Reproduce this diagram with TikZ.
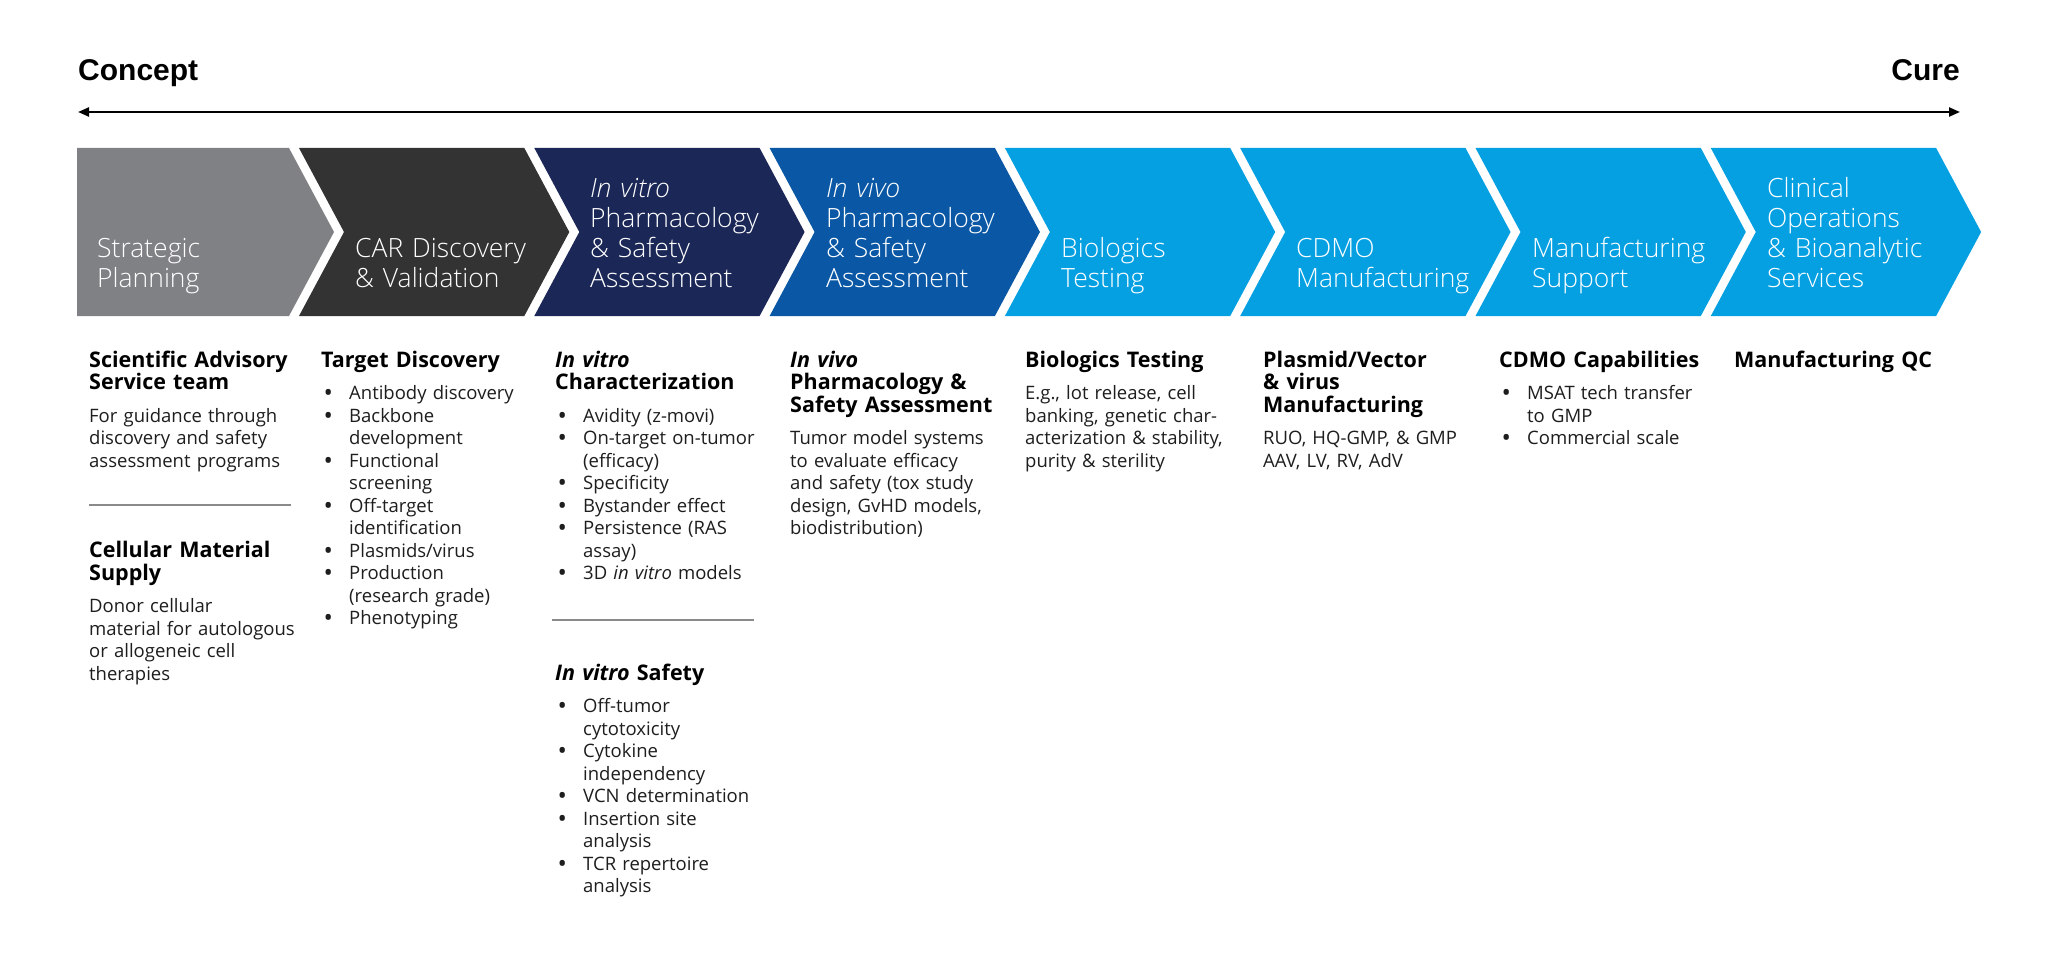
\documentclass[tikz,border=0pt]{standalone}
\usepackage{fontspec}
\usepackage{graphicx}
\setmainfont{Open Sans}
\newfontfamily\ccfont{Liberation Sans}
\IfFontExistsTF{Open Sans Light}{\newfontfamily\chevfont{Open Sans Light}}{\newfontfamily\chevfont{Open Sans}}
\usetikzlibrary{arrows.meta}
\definecolor{cgray}{HTML}{808184}
\definecolor{cdark}{HTML}{333333}
\definecolor{cnavy}{HTML}{1B2857}
\definecolor{cblue}{HTML}{0A58A5}
\definecolor{clight}{HTML}{05A0E2}
\definecolor{bodytxt}{HTML}{1E1E1E}
\definecolor{sepgray}{HTML}{8A8A8A}
\newcommand{\bitem}[1]{\noindent\makebox[28pt][l]{\hspace{2.5pt}\raisebox{-2pt}{\scalebox{1.35}{\textbullet}}}#1\par}
\newcommand{\bcont}[1]{\noindent\hspace*{28pt}#1\par}
\newcommand{\chevron}[2]{%
  \pgfmathsetmacro\cL{63.7+235.3*#1}%
  \pgfmathsetmacro\cR{\cL+225.3}%
  \fill[#2] (\cL,148) -- (\cR,148) -- (\cR+45,232) -- (\cR,316) -- (\cL,316) -- (\cL+45,232) -- cycle;}
\begin{document}
\begin{tikzpicture}[x=1pt,y=-1pt,
  ctext/.style={anchor=base west, inner sep=0, text width=235, align=left, text=white,
    font=\chevfont\fontsize{26.5}{30}\selectfont},
  hd/.style={anchor=base west, inner sep=0, text width=260, align=left, text=black,
    font=\bfseries\fontsize{21.5}{22.5}\selectfont},
  bd/.style={anchor=base west, inner sep=0, text width=260, align=left, text=bodytxt,
    font=\fontsize{18.5}{22.5}\selectfont},
  sepline/.style={draw=sepgray, line width=1.5},
  timeline/.style={line width=2.2, {Triangle[length=11pt,width=9pt]}-{Triangle[length=11pt,width=9pt]}},
  endlabel/.style={inner sep=0, font=\ccfont\bfseries\fontsize{30}{32}\selectfont}]
\useasboundingbox (0,0) rectangle (2048,960);
\fill[white] (0,0) rectangle (2048,960);

% timeline
\node[endlabel, anchor=base west] (concept) at (78,81) {Concept};
\node[endlabel, anchor=base east] (cure) at (1960,81) {Cure};
\coordinate (aL) at (78,112);
\coordinate (aR) at (1960,112);
\draw[timeline] (aL) -- (aR);

% chevrons
\fill[cgray] (77,148) -- (289,148) -- (334,232) -- (289,316) -- (77,316) -- cycle;
\chevron{1}{cdark}
\chevron{2}{cnavy}
\chevron{3}{cblue}
\chevron{4}{clight}
\chevron{5}{clight}
\chevron{6}{clight}
\chevron{7}{clight}

\node[ctext] (c1) at (97,258) {Strategic\\Planning};
\node[ctext] (c2) at (355,258) {CAR Discovery\\\& Validation};
\node[ctext] (c3) at (590,198) {\textit{In vitro}\\Pharmacology\\\& Safety\\Assessment};
\node[ctext] (c4) at (826,198) {\textit{In vivo}\\Pharmacology\\\& Safety\\Assessment};
\node[ctext] (c5) at (1061,258) {Biologics\\Testing};
\node[ctext] (c6) at (1296,258) {CDMO\\Manufacturing};
\node[ctext] (c7) at (1532,258) {Manufacturing\\Support};
\node[ctext] (c8) at (1767,198) {Clinical\\Operations\\\& Bioanalytic\\Services};

% column 1
\node[hd] (h1) at (89,367) {Scientific Advisory\\Service team};
\node[bd] (b1) at (89,422) {For guidance through\\discovery and safety\\assessment programs};
\draw[sepline] (89,505) -- (291,505);
\node[hd] (h1b) at (89,557.5) {Cellular Material\\Supply};
\node[bd] (b1b) at (89,612.5) {Donor cellular\\material for autologous\\or allogeneic cell\\therapies};

% column 2
\node[hd] (h2) at (321,367) {Target Discovery};
\node[bd] (b2) at (321,399.6) {\bitem{Antibody discovery}\bitem{Backbone}\bcont{development}\bitem{Functional}\bcont{screening}\bitem{Off-target}\bcont{identification}\bitem{Plasmids/virus}\bitem{Production}\bcont{(research grade)}\bitem{Phenotyping}};

% column 3
\node[hd] (h3) at (555,367) {\textit{In vitro}\\Characterization};
\node[bd] (b3) at (555,422) {\bitem{Avidity (z-movi)}\bitem{On-target on-tumor}\bcont{(efficacy)}\bitem{Specificity}\bitem{Bystander effect}\bitem{Persistence (RAS}\bcont{assay)}\bitem{3D \textit{in vitro} models}};
\draw[sepline] (552,620) -- (754,620);
\node[hd] (h3b) at (555,680) {\textit{In vitro} Safety};
\node[bd] (b3b) at (555,712.5) {\bitem{Off-tumor}\bcont{cytotoxicity}\bitem{Cytokine}\bcont{independency}\bitem{VCN determination}\bitem{Insertion site}\bcont{analysis}\bitem{TCR repertoire}\bcont{analysis}};

% column 4
\node[hd] (h4) at (790,367) {\textit{In vivo}\\Pharmacology \&\\Safety Assessment};
\node[bd] (b4) at (790,444.6) {Tumor model systems\\to evaluate efficacy\\and safety (tox study\\design, GvHD models,\\biodistribution)};

% column 5
\node[hd] (h5) at (1025,367) {Biologics Testing};
\node[bd] (b5) at (1025,399.6) {E.g., lot release, cell\\banking, genetic char-\\acterization \& stability,\\purity \& sterility};

% column 6
\node[hd] (h6) at (1263,367) {Plasmid/Vector\\\& virus\\Manufacturing};
\node[bd] (b6) at (1263,444.6) {RUO, HQ-GMP, \& GMP\\AAV, LV, RV, AdV};

% column 7
\node[hd] (h7) at (1499,367) {CDMO Capabilities};
\node[bd] (b7) at (1499,399.6) {\bitem{MSAT tech transfer}\bcont{to GMP}\bitem{Commercial scale}};

% column 8
\node[hd] (h8) at (1734,367) {Manufacturing QC};
\end{tikzpicture}
\end{document}
